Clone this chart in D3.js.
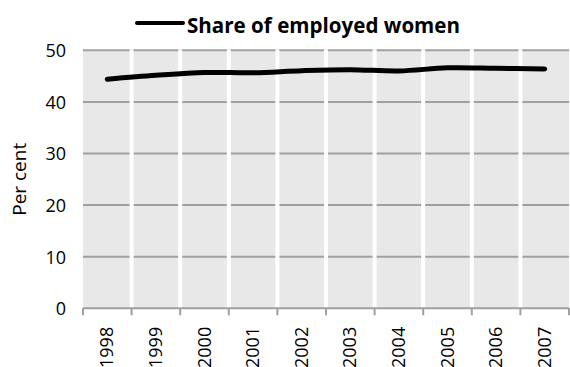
<!DOCTYPE html>
<html><head><meta charset="utf-8">
<script src="https://cdn.jsdelivr.net/npm/d3@7"></script>
<style>body{margin:0;background:#fff}svg{display:block}text{font-family:"Open Sans",sans-serif;fill:#000}</style>
</head><body><svg id="c" width="570" height="367"></svg>
<script>
const years = ["1998","1999","2000","2001","2002","2003","2004","2005","2006","2007"];
const shareWomen = [44.4, 45.15, 45.7, 45.65, 46.05, 46.25, 46.0, 46.6, 46.5, 46.4];
const yTicks = [0, 10, 20, 30, 40, 50];
const seriesName = "Share of employed women";
const yTitle = "Per cent";

const svg = d3.select("#c");
const L = 83, R = 569, T = 50.3, B = 308.3;
const x = d3.scaleBand().domain(years).range([L, R]);
const y = d3.scaleLinear().domain([0, 50]).range([B, T]);

svg.append("rect").attr("x", L).attr("y", T).attr("width", R - L).attr("height", B - T).attr("fill", "#e8e8e8");

// horizontal gridlines
svg.append("g").selectAll("line").data(yTicks.filter(d => d > 0)).join("line")
  .attr("x1", L).attr("x2", R).attr("y1", d => y(d)).attr("y2", d => y(d))
  .attr("stroke", "#a0a0a0").attr("stroke-width", 2);

// vertical white gridlines at band boundaries
svg.append("g").selectAll("line").data(years.slice(1)).join("line")
  .attr("x1", d => x(d)).attr("x2", d => x(d)).attr("y1", T - 1).attr("y2", B)
  .attr("stroke", "#fff").attr("stroke-width", 4);

// x axis
const gx = svg.append("g").attr("transform", `translate(0,${B})`);
gx.append("line").attr("x1", L).attr("x2", R).attr("stroke", "#a0a0a0").attr("stroke-width", 2);
gx.selectAll("line.tk").data(years.concat(["end"])).join("line").attr("class", "tk")
  .attr("x1", (d, i) => i < years.length ? x(d) : R).attr("x2", (d, i) => i < years.length ? x(d) : R)
  .attr("y1", 0).attr("y2", 7).attr("stroke", "#a0a0a0").attr("stroke-width", 2);
gx.selectAll("text.xl").data(years).join("text").attr("class", "xl")
  .attr("transform", d => `translate(${x(d) + x.bandwidth() / 2 + 6},${18.5}) rotate(-90)`)
  .attr("text-anchor", "end").attr("font-size", 18).text(d => d);

// y axis labels
const yAxis = d3.axisLeft(y).tickValues(yTicks).tickSize(0).tickPadding(17);
const gy = svg.append("g").attr("transform", `translate(${L},0)`).call(yAxis);
gy.select(".domain").remove();
gy.selectAll("text").attr("font-size", 18).attr("font-family", '"Open Sans",sans-serif').attr("fill", "#000").attr("dy", "0.36em");

svg.append("text").attr("transform", `translate(26,${(T + B) / 2}) rotate(-90)`)
  .attr("text-anchor", "middle").attr("font-size", 19).text(yTitle);

// line
const line = d3.line().x((d, i) => x(years[i]) + x.bandwidth() / 2).y(d => y(d)).curve(d3.curveCatmullRom.alpha(0.5));
svg.append("path").datum(shareWomen).attr("d", line).attr("fill", "none")
  .attr("stroke", "#000").attr("stroke-width", 5).attr("stroke-linecap", "round").attr("stroke-linejoin", "round");

// legend
svg.append("line").attr("x1", 137).attr("x2", 183).attr("y1", 23).attr("y2", 23)
  .attr("stroke", "#000").attr("stroke-width", 4).attr("stroke-linecap", "round");
svg.append("text").attr("x", 187).attr("y", 33).attr("font-size", 21).attr("font-weight", "bold")
  .attr("textLength", 273).attr("lengthAdjust", "spacingAndGlyphs").text(seriesName);
</script></body></html>
